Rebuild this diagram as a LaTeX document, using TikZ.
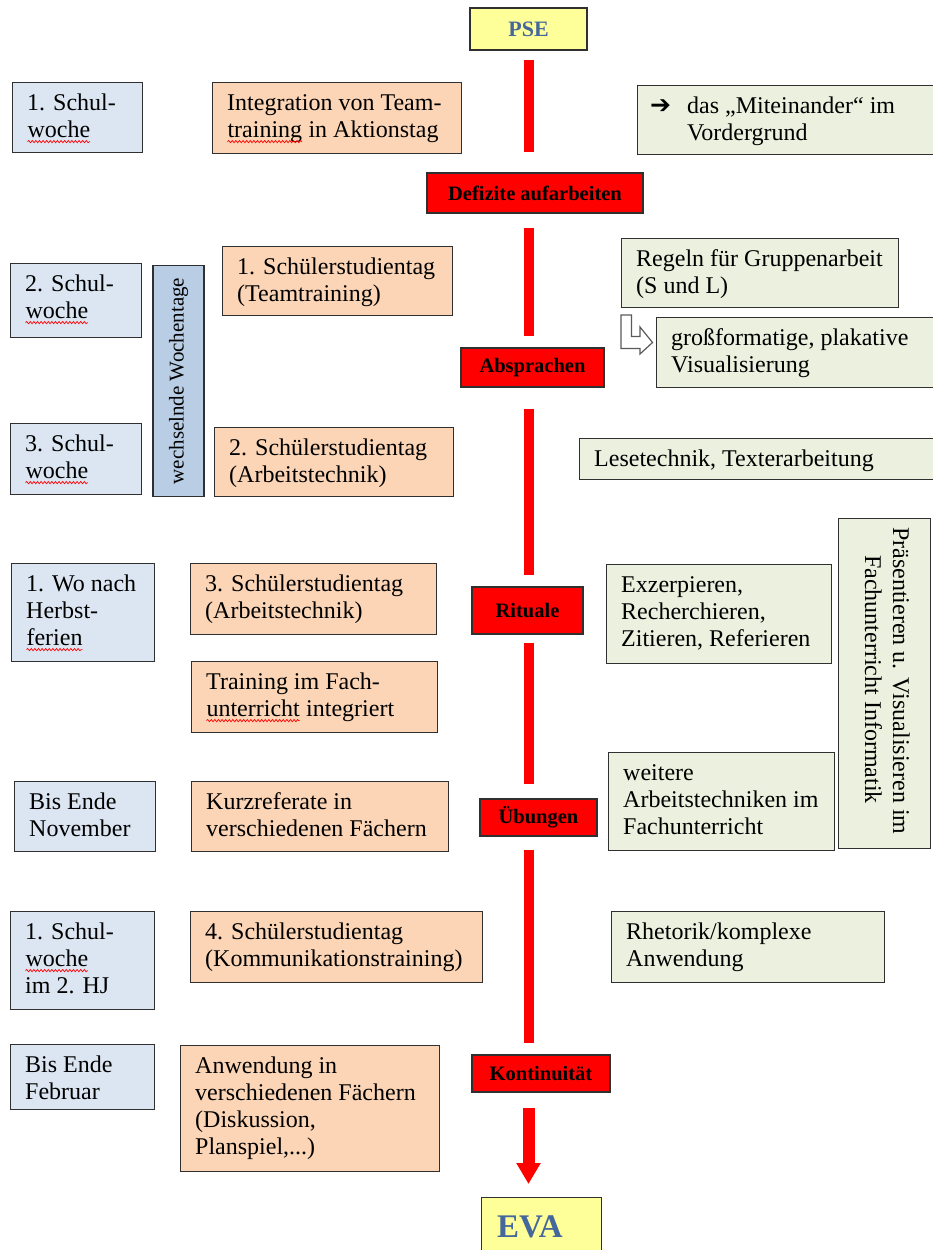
\documentclass[tikz,border=0pt]{standalone}
\usepackage{fontspec}
\setmainfont{Liberation Serif}
\newfontfamily\arrowfont{DejaVu Sans}
\usetikzlibrary{arrows.meta,decorations.pathmorphing,calc}
\definecolor{bordc}{HTML}{303030}
\definecolor{blueF}{HTML}{DCE6F2}
\definecolor{blueD}{HTML}{B9CDE5}
\definecolor{orangeF}{HTML}{FBD5B5}
\definecolor{greenF}{HTML}{EBF1DE}
\definecolor{yellowF}{HTML}{FFFF99}
\definecolor{titleblue}{HTML}{45679B}
\definecolor{arrowgray}{HTML}{5A5A5A}
\newcommand{\squig}[1]{\tikz[baseline=(sqw.base)]{\node[inner sep=0pt,outer sep=0pt,anchor=base,draw=none,fill=none,align=none] (sqw) {#1};\draw[red,line width=0.7pt,decorate,decoration={snake,amplitude=1.1pt,segment length=3.6pt}] ([yshift=-4.5pt]sqw.base west) -- ([yshift=-4.5pt]sqw.base east);}}
\newcommand{\tbox}[7]{%
  \node[#1, anchor=north west, minimum width={#5-#3}, minimum height={#6-#4}] (#2) at (#3,#4) {};
  \node[txt, anchor=north west] (#2-t) at ([xshift=15pt,yshift=-9pt]#2.north west) {\strut #7};
}
\newcommand{\cbox}[7]{%
  \node[#1, minimum width={#5-#3}, minimum height={#6-#4}] (#2) at ({(#3+#5)/2},{(#4+#6)/2}) {#7};
}
\begin{document}
\begin{tikzpicture}[x=1pt,y=-1pt,
  base/.style={draw=bordc, line width=1.3pt, inner sep=0pt},
  bl/.style={base, fill=blueF},
  bd/.style={base, fill=blueD},
  orb/.style={base, fill=orangeF},
  grb/.style={base, fill=greenF},
  yb/.style={base, fill=yellowF},
  rd/.style={base, fill=red, font=\bfseries\fontsize{20.5}{24}\selectfont},
  txt/.style={inner sep=0pt, align=left, font=\fontsize{24}{27}\selectfont},
  redline/.style={draw=red, line width=10pt},
]
\fill[white] (0,0) rectangle (933,1250);
\useasboundingbox (0,0) rectangle (933,1250);

% top and bottom
\cbox{yb, font=\bfseries\fontsize{22}{26}\selectfont, text=titleblue}{pse}{470}{8}{587}{50}{PSE}
\node[yb, anchor=north west, minimum width=120, minimum height=70] (eva) at (481,1197) {};
\node[inner sep=0pt, anchor=base west, font=\bfseries\fontsize{33}{38}\selectfont, text=titleblue] (eva-t) at (497,1237) {EVA};

% red labels
\cbox{rd}{def}{427}{173}{643}{213}{Defizite aufarbeiten}
\cbox{rd}{abs}{461}{348}{604}{387}{Absprachen}
\cbox{rd}{rit}{472}{587}{583}{634}{Rituale}
\cbox{rd}{ueb}{480}{799}{597}{836}{Übungen}
\cbox{rd}{kon}{472}{1055}{610}{1092}{Kontinuität}

% red line segments
\draw[redline, shorten <=9pt, shorten >=20pt] (pse.south) -- (pse.south |- def.north);
\draw[redline, shorten <=14pt, shorten >=11pt] (pse.south |- def.south) -- (pse.south |- abs.north);
\draw[redline, shorten <=21pt, shorten >=11pt] (pse.south |- abs.south) -- (pse.south |- rit.north);
\draw[redline, shorten <=8pt, shorten >=14pt] (pse.south |- rit.south) -- (pse.south |- ueb.north);
\draw[redline, shorten <=13pt, shorten >=11pt] (pse.south |- ueb.south) -- (pse.south |- kon.north);
\draw[draw=red, line width=12pt, -{Triangle[width=23pt,length=21pt]}, red, shorten <=15pt, shorten >=13pt] (pse.south |- kon.south) -- (pse.south |- eva.north);

% left: weeks
\tbox{bl}{s1}{12}{82}{142}{152}{1. Schul-\\\squig{woche}}
\tbox{bl}{s2}{10}{263}{141}{337}{2. Schul-\\\squig{woche}}
\tbox{bl}{s3}{10}{423}{141}{494}{3. Schul-\\\squig{woche}}
\tbox{bl}{s4}{11}{563}{154}{661}{1. Wo nach\\Herbst-\\\squig{ferien}}
\tbox{bl}{s5}{14}{781}{155}{851}{Bis Ende\\November}
\tbox{bl}{s6}{10}{911}{154}{1009}{1. Schul-\\\squig{woche}\\im 2. HJ}
\tbox{bl}{s7}{10}{1044}{154}{1109}{Bis Ende\\Februar}

\node[bd, rotate=90, minimum width=231, minimum height=51, font=\fontsize{21}{25}\selectfont] (wt) at (178.5,381) {wechselnde Wochentage};

% middle: activities
\tbox{orb}{o1}{212}{82}{461}{153}{Integration von Team-\\\squig{training} in Aktionstag}
\tbox{orb}{o2}{222}{246}{452}{315}{1. Schülerstudientag\\(Teamtraining)}
\tbox{orb}{o3}{214}{427}{453}{496}{2. Schülerstudientag\\(Arbeitstechnik)}
\tbox{orb}{o4}{190}{563}{436}{634}{3. Schülerstudientag\\(Arbeitstechnik)}
\tbox{orb}{o5}{191}{661}{437}{732}{Training im Fach-\\\squig{unterricht} integriert}
\tbox{orb}{o6}{191}{781}{448}{851}{Kurzreferate in\\verschiedenen Fächern}
\tbox{orb}{o7}{190}{911}{482}{982}{4. Schülerstudientag\\(Kommunikationstraining)}
\tbox{orb}{o8}{180}{1045}{439}{1171}{Anwendung in\\verschiedenen Fächern\\(Diskussion,\\Planspiel,...)}

% right: methods
\node[grb, anchor=north west, minimum width=296, minimum height=69] (g1) at (637,85) {};
\node[txt, anchor=north west] (g1-t) at ([xshift=13pt,yshift=-9pt]g1.north west) {\strut{\arrowfont\fontsize{25}{27}\selectfont ➔}\hspace{16pt}das „Miteinander“ im\\\hspace*{37pt}Vordergrund};
\tbox{grb}{g2}{621}{238}{898}{307}{Regeln für Gruppenarbeit\\(S und L)}
\tbox{grb}{g3}{656}{317}{933}{387}{großformatige, plakative\\Visualisierung}
\tbox{grb}{g4}{579}{438}{933}{479}{Lesetechnik, Texterarbeitung}
\tbox{grb}{g5}{606}{564}{831}{663}{Exzerpieren,\\Recherchieren,\\Zitieren, Referieren}
\tbox{grb}{g6}{608}{752}{834}{850}{weitere\\Arbeitstechniken im\\Fachunterricht}
\tbox{grb}{g7}{611}{911}{884}{982}{Rhetorik/komplexe\\Anwendung}

\node[grb, anchor=north west, minimum width=92, minimum height=330] (pr) at (838,518) {};
\node[inner sep=0pt, align=left, rotate=-90, anchor=north west, font=\fontsize{24}{28}\selectfont] (pr-t) at (913,527) {\strut Präsentieren u. Visualisieren im\\\hspace*{28pt}Fachunterricht Informatik};

% hollow bent arrow between g2 and g3
\draw[draw=arrowgray, line width=1.2pt, fill=white, line join=miter]
  (621,315) -- (631.5,315) -- (631.5,336.5) -- (640,336.5) -- (640,327) -- (652.5,342.5)
  -- (640,354) -- (640,348.5) -- (621,348.5) -- cycle;
\end{tikzpicture}
\end{document}
